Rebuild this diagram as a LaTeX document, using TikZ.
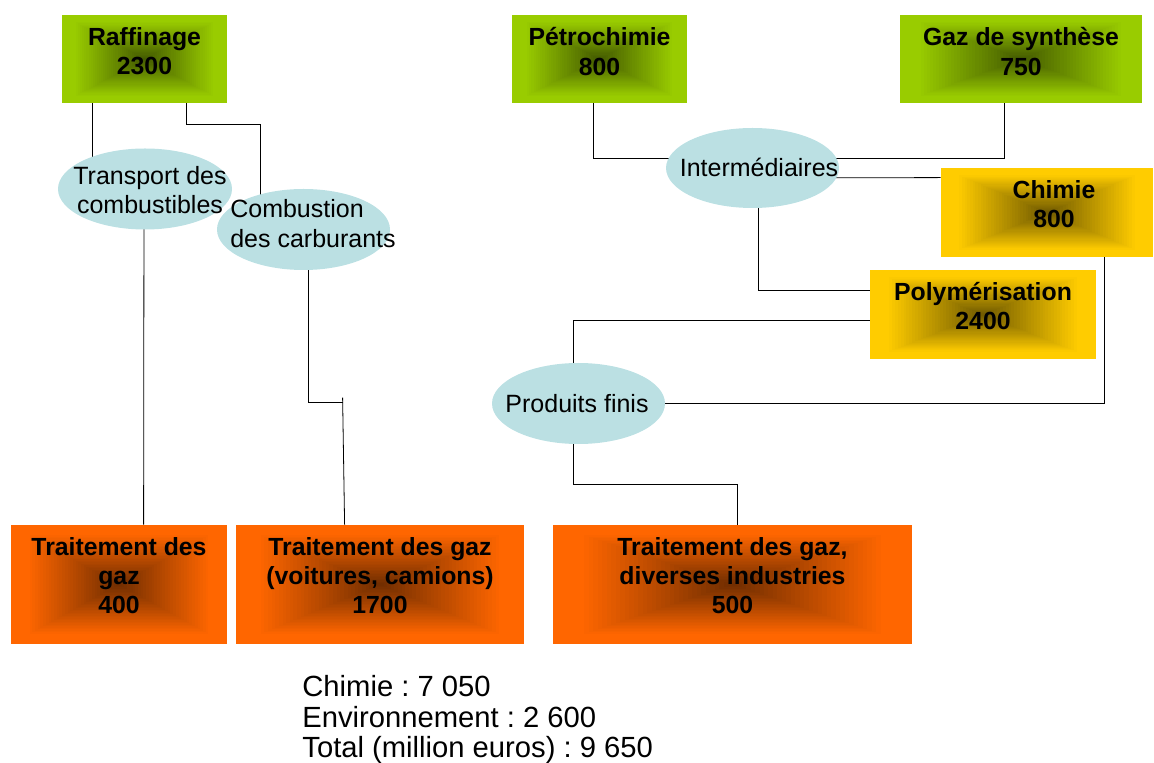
\documentclass[tikz,border=0pt]{standalone}
\usepackage{fontspec}
\setmainfont{Liberation Sans}
\frenchspacing
\usetikzlibrary{shapes.geometric, backgrounds, calc}

\definecolor{vert}{RGB}{153,204,0}
\definecolor{jaune}{RGB}{255,204,0}
\definecolor{orangebox}{RGB}{255,102,0}
\definecolor{bullecol}{RGB}{187,224,227}

% box fill: nested rectangles, dark in the middle, full colour towards the border
\newcommand\boxfill[2]{%
  \foreach \i in {0,...,39} {
    \pgfmathsetmacro\f{1-\i/40}
    \pgfmathsetmacro\p{43+57*min(1,\f/0.85)}
    \fill[#2!\p!black] ($(#1.center)!\f!(#1.north west)$) rectangle ($(#1.center)!\f!(#1.south east)$);
  }
}

\begin{document}
\begin{tikzpicture}[x=0.5pt, y=-0.5pt,
  box/.style={rectangle, inner sep=0pt},
  bulle/.style={ellipse, inner sep=0pt, fill=bullecol},
  boxtxt/.style={font=\bfseries\fontsize{12.4}{14.6}\selectfont, align=center, inner sep=0pt},
  bulletxt/.style={font=\fontsize{12.5}{14.5}\selectfont, align=center, inner sep=0pt},
  link/.style={line width=0.85pt}]
  \useasboundingbox (0,0) rectangle (1154,763);

  % top row
  \node[box, minimum width=82.5pt, minimum height=44pt] (raff) at (144.5,59) {};
  \boxfill{raff}{vert}
  \node[boxtxt] (raff-t) at ($(raff.center)+(0,-7.5)$) {Raffinage\\2300};
  \node[box, minimum width=87.5pt, minimum height=44pt] (petro) at (599.5,59) {};
  \boxfill{petro}{vert}
  \node[boxtxt] (petro-t) at ($(petro.center)+(0,-7.5)$) {Pétrochimie\\800};
  \node[box, minimum width=121pt, minimum height=44pt] (gaz) at (1021,59) {};
  \boxfill{gaz}{vert}
  \node[boxtxt] (gaz-t) at ($(gaz.center)+(0,-7.5)$) {Gaz de synthèse\\750};

  % right column
  \node[box, minimum width=106pt, minimum height=44.5pt] (chim) at (1047,212.5) {};
  \boxfill{chim}{jaune}
  \node[boxtxt] (chim-t) at ($(chim.center)+(7,-8.5)$) {Chimie\\800};
  \node[box, minimum width=113pt, minimum height=44.5pt] (poly) at (983,314.5) {};
  \boxfill{poly}{jaune}
  \node[boxtxt] (poly-t) at ($(poly.center)+(0,-8.5)$) {Polymérisation\\2400};

  % bottom row
  \node[box, minimum width=108pt, minimum height=59.5pt] (tgaz) at (119,584.5) {};
  \boxfill{tgaz}{orangebox}
  \node[boxtxt] (tgaz-t) at ($(tgaz.center)+(0,-9)$) {Traitement des\\gaz\\400};
  \node[box, minimum width=144pt, minimum height=59.5pt] (tvoit) at (380,584.5) {};
  \boxfill{tvoit}{orangebox}
  \node[boxtxt] (tvoit-t) at ($(tvoit.center)+(0,-9)$) {Traitement des gaz\\(voitures, camions)\\1700};
  \node[box, minimum width=179.5pt, minimum height=59.5pt] (tind) at (732.5,584.5) {};
  \boxfill{tind}{orangebox}
  \node[boxtxt] (tind-t) at ($(tind.center)+(0,-9)$) {Traitement des gaz,\\diverses industries\\500};

  % usages
  \node[bulle, minimum width=87pt, minimum height=40.5pt] (transp) at (145,189) {};
  \node[bulletxt] (transp-t) at ($(transp.center)+(5,1)$) {Transport des\\combustibles};
  \node[bulle, minimum width=86.5pt, minimum height=40.5pt] (combu) at (303.5,229.5) {};
  \node[bulletxt, align=left, font=\fontsize{12.5}{15}\selectfont] (combu-t) at ($(combu.center)+(9.5,-5.5)$) {Combustion\\des carburants};
  \node[bulle, minimum width=86.5pt, minimum height=40pt] (inter) at (752.5,168) {};
  \node[bulletxt] (inter-t) at ($(inter.center)+(6.5,-1)$) {Intermédiaires};
  \node[bulle, minimum width=86.5pt, minimum height=40.5pt] (prod) at (578.5,403.5) {};
  \node[bulletxt] (prod-t) at ($(prod.center)+(-1.5,0.5)$) {Produits finis};

  \node[anchor=north west, inner sep=0pt, align=left, font=\fontsize{14.6}{15.3}\selectfont] (total) at (302,675)
    {Chimie : 7 050\\Environnement : 2 600\\Total (million euros) : 9 650};

  \begin{scope}[on background layer, link]
    \draw ($(raff.south west)+(31,0)$) |- (transp.center);
    \draw ($(raff.south west)+(125,0)$) -- ++(0,21) -| ($(combu.center)+(-43.5,0)$);
    \draw ($(transp.center)+(-1,0)$) -- ($(tgaz.north west)+(133,0)$);
    \draw ($(combu.center)+(4.5,0)$) |- ($(tvoit.north west)+(107,-122)$);
    \draw ($(tvoit.north west)+(107,-127)$) -- ($(tvoit.north west)+(109,0)$);

    \draw ($(petro.south west)+(82,0)$) |- ($(inter.center)+(0,-10)$);
    \draw ($(gaz.south west)+(105,0)$) |- ($(inter.center)+(0,-10)$);
    \draw ($(inter.center)+(0,10)$) -- ($(chim.north west)+(0,10)$);
    \draw ($(inter.center)+(5.5,0)$) |- ($(poly.north west)+(0,21)$);
    \draw ($(poly.north west)+(0,51)$) -| ($(prod.center)+(-5.5,0)$);
    \draw ($(chim.south west)+(164,0)$) |- (prod.center);
    \draw ($(prod.center)+(-5.5,0)$) |- ($(tind.north west)+(184.5,-40)$) -- ($(tind.north west)+(184.5,0)$);
  \end{scope}
\end{tikzpicture}
\end{document}
